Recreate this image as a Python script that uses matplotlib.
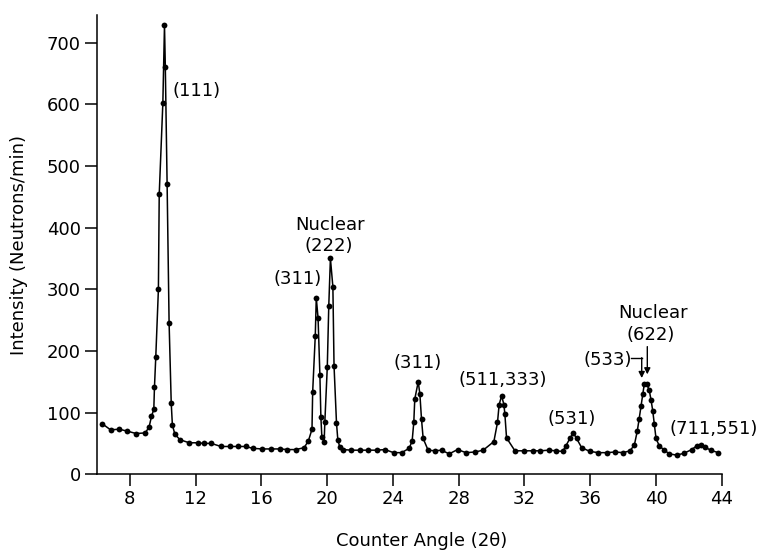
import matplotlib
matplotlib.use("Agg")
import matplotlib.pyplot as plt

plt.rcParams['font.family'] = ['DejaVu Sans']

# counter angle (2 theta, degrees) and measured intensity (neutrons/min)
angle = [6.32, 6.83, 7.35, 7.84, 8.38, 8.93, 9.17, 9.32, 9.46, 9.50, 9.58, 9.74,
         9.79, 10.01, 10.11, 10.16, 10.27, 10.39, 10.52, 10.59, 10.74, 11.05,
         11.61, 12.12, 12.50, 12.95, 13.55, 14.08, 14.59, 15.04, 15.48, 16.05,
         16.56, 17.13, 17.59, 18.08, 18.60,
         18.86, 19.08, 19.12, 19.28, 19.34, 19.45, 19.56, 19.62, 19.68, 19.82,
         19.86, 20.01, 20.10, 20.20, 20.35, 20.42, 20.57, 20.65, 20.77, 20.97,
         21.48, 21.99, 22.50, 23.01, 23.52, 24.04, 24.53, 24.99, 25.17, 25.27,
         25.33, 25.54, 25.64, 25.74, 25.84, 26.14, 26.55, 26.96, 27.42, 27.93,
         28.44, 28.98, 29.49,
         30.14, 30.36, 30.46, 30.61, 30.75, 30.81, 30.91, 31.42, 31.98, 32.50,
         32.97, 33.47, 33.91, 34.32,
         34.52, 34.76, 34.97, 35.17, 35.48, 35.98, 36.49, 37.00, 37.50, 38.01,
         38.41, 38.68, 38.86, 38.97, 39.09, 39.19, 39.29, 39.43, 39.59, 39.70,
         39.80, 39.90, 40.00, 40.20, 40.51, 40.81, 41.26, 41.70, 42.17, 42.47,
         42.73, 42.98, 43.32, 43.78]
counts = [82, 72, 73, 70, 66, 67, 76, 94, 105, 141, 190, 300,
          454, 602, 728, 661, 470, 246, 115, 80, 65, 56,
          51, 51, 50, 50, 45, 45, 45, 45, 42, 41,
          41, 41, 40, 40, 43,
          54, 73, 133, 225, 286, 253, 161, 93, 60, 53,
          84, 174, 273, 350, 304, 176, 83, 56, 44, 40,
          39, 39, 39, 39, 40, 35, 35, 42, 54, 84,
          122, 150, 130, 89, 58, 39, 38, 39, 33, 40,
          35, 36, 39,
          53, 84, 113, 127, 113, 97, 59, 38, 38, 38,
          38, 39, 38, 37,
          46, 58, 67, 58, 43, 37, 35, 35, 36, 35,
          38, 47, 70, 89, 111, 130, 147, 147, 136, 120,
          103, 81, 58, 46, 39, 33, 31, 34, 40, 46,
          47, 44, 39, 35]

# reflection labels: (text, x, y, horizontal alignment)
peak_labels = [
    ("(111)", 10.6, 621, "left"),
    ("Nuclear", 20.2, 405, "center"),
    ("(222)", 20.1, 370, "center"),
    ("(311)", 18.2, 316, "center"),
    ("(311)", 25.5, 181, "center"),
    ("(511,333)", 30.7, 153, "center"),
    ("(531)", 34.9, 89, "center"),
    ("(533)", 37.05, 186, "center"),
    ("Nuclear", 39.8, 262, "center"),
    ("(622)", 39.7, 226, "center"),
    ("(711,551)", 43.5, 73, "center"),
]

xticks = list(range(8, 45, 4))
yticks = list(range(0, 701, 100))

fig = plt.figure(figsize=(7.63, 5.54), dpi=100)
ax = fig.add_axes([0.127, 0.144, 0.819, 0.829])

ax.plot(angle, counts, color="black", lw=1.1, marker="o", ms=4.2,
        markeredgewidth=0)

for txt, x, y, ha in peak_labels:
    ax.text(x, y, txt, ha=ha, va="center", fontsize=13)

arrow = dict(arrowstyle="-|>", color="black", lw=1.0,
             mutation_scale=9, shrinkA=0, shrinkB=0)
# (533) bracket arrow
ax.plot([38.5, 39.13], [189, 189], color="black", lw=1.0)
ax.annotate("", xy=(39.13, 156), xytext=(39.13, 189), arrowprops=arrow)
# (622) arrow
ax.annotate("", xy=(39.47, 162), xytext=(39.47, 207), arrowprops=arrow)

ax.set_xlim(6, 44)
ax.set_ylim(0, 745)
ax.set_xticks(xticks)
ax.set_yticks(yticks)
ax.tick_params(labelsize=13, length=8.5, width=1.1, pad=3)
for side in ("top", "right"):
    ax.spines[side].set_visible(False)
for side in ("left", "bottom"):
    ax.spines[side].set_linewidth(1.1)

ax.set_xlabel("Counter Angle (2θ)", fontsize=13)
ax.set_ylabel("Intensity (Neutrons/min)", fontsize=13)
ax.xaxis.set_label_coords(0.52, -0.125)
ax.yaxis.set_label_coords(-0.11, 0.5)

fig.savefig("out.png", dpi=100)
